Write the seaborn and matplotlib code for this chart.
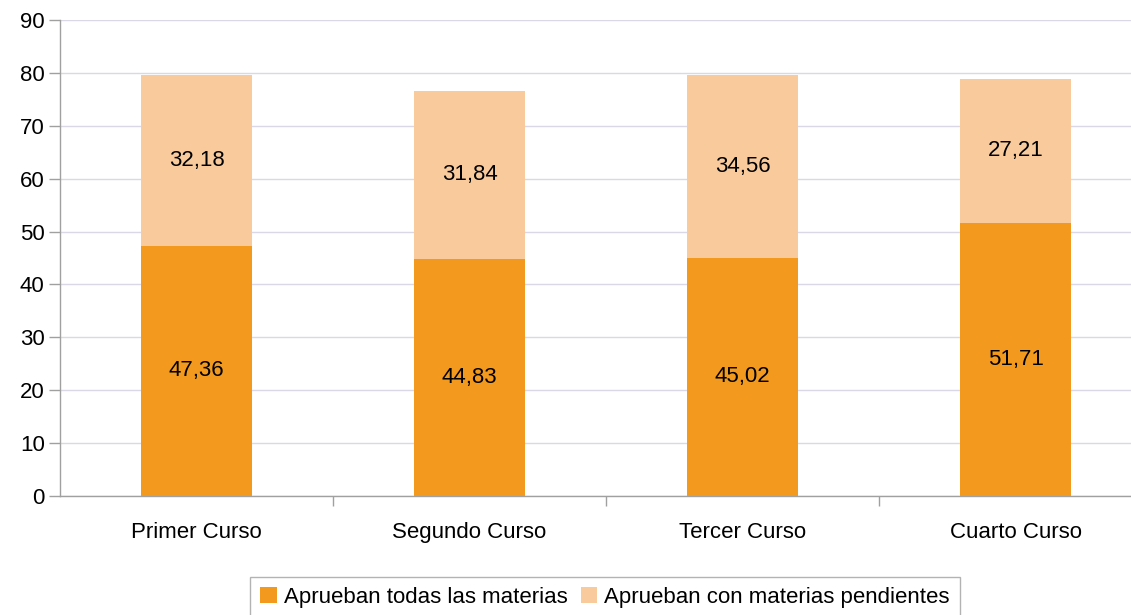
import matplotlib
matplotlib.use("Agg")
import matplotlib.pyplot as plt
import seaborn as sns
import numpy as np
import pandas as pd
from matplotlib.patches import Patch

categories = ["Primer Curso", "Segundo Curso", "Tercer Curso", "Cuarto Curso"]
todas = [47.36, 44.83, 45.02, 51.71]
pendientes = [32.18, 31.84, 34.56, 27.21]
series_names = ["Aprueban todas las materias", "Aprueban con materias pendientes"]
yticks = [0, 10, 20, 30, 40, 50, 60, 70, 80, 90]

c_dark = "#F39A1E"
c_light = "#F9CB9C"

sns.set_theme(style="white")
plt.rcParams['font.family'] = ['Liberation Sans', 'DejaVu Sans']
plt.rcParams['text.color'] = 'black'
plt.rcParams['xtick.color'] = 'black'
plt.rcParams['ytick.color'] = 'black'

W, H = 1131, 615
FS = 16
fig = plt.figure(figsize=(W / 100, H / 100), dpi=100)
ax = fig.add_axes([60 / W, (H - 496) / H, (W - 60) / W, (496 - 20) / H])

df = pd.DataFrame({"cat": categories,
                   "todas": todas,
                   "total": np.array(todas) + np.array(pendientes)})

sns.barplot(data=df, x="cat", y="total", color=c_light, width=0.403,
            saturation=1, ax=ax, zorder=2, edgecolor="none")
sns.barplot(data=df, x="cat", y="todas", color=c_dark, width=0.403,
            saturation=1, ax=ax, zorder=3, edgecolor="none")

for i, (a, b) in enumerate(zip(todas, pendientes)):
    ax.text(i, a / 2, f"{a:.2f}".replace(".", ","), ha="center", va="center",
            fontsize=FS, color="black", zorder=4)
    ax.text(i, a + b / 2, f"{b:.2f}".replace(".", ","), ha="center", va="center",
            fontsize=FS, color="black", zorder=4)

ax.set_ylim(0, 90)
ax.set_xlim(-0.5, -0.5 + (W - 60) / 273)
ax.set_yticks(yticks)
ax.set_yticklabels([str(v) for v in yticks], fontsize=FS)
ax.set_xticks(range(len(categories)))
ax.set_xticklabels(categories, fontsize=FS)
ax.tick_params(axis="x", which="major", length=0, pad=19)
ax.set_xticks([0.5, 1.5, 2.5], minor=True)
ax.tick_params(axis="x", which="minor", length=7, color="#a0a0a0", width=1, direction="out", bottom=True)
ax.tick_params(axis="y", length=8, color="#a0a0a0", width=1, direction="out", left=True, pad=3)
ax.set_xlabel("")
ax.set_ylabel("")

ax.yaxis.grid(True, color="#DAD8E6", linewidth=1, zorder=0)
ax.set_axisbelow(True)
for s in ["top", "right"]:
    ax.spines[s].set_visible(False)
for s in ["left", "bottom"]:
    ax.spines[s].set_color("#a0a0a0")
    ax.spines[s].set_linewidth(1)

handles = [Patch(facecolor=c_dark, edgecolor="none", label=series_names[0]),
           Patch(facecolor=c_light, edgecolor="none", label=series_names[1])]
leg = fig.legend(handles=handles, loc="upper center", bbox_to_anchor=(605 / W, (H - 577) / H),
                 ncol=2, fontsize=FS, frameon=True, fancybox=False,
                 handlelength=0.75, handleheight=0.75, handletextpad=0.3,
                 columnspacing=0.6, borderpad=0.45, borderaxespad=0)
leg.get_frame().set_edgecolor("#a0a0a0")
leg.get_frame().set_linewidth(1)

fig.savefig("out.png", dpi=100)
